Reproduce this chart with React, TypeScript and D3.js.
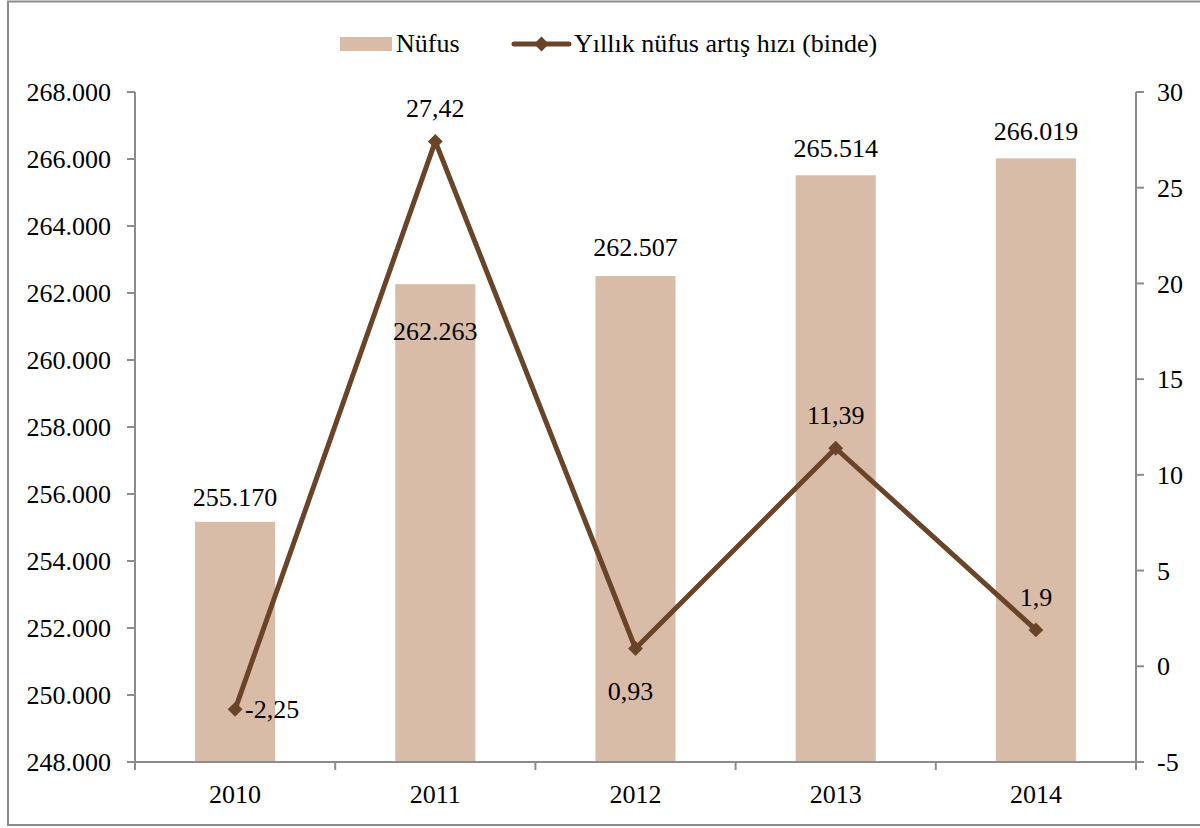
import React, { useEffect, useRef } from "react";
import * as d3 from "d3";

const years = ["2010", "2011", "2012", "2013", "2014"];
const population = [255170, 262263, 262507, 265514, 266019];
const growthRate = [-2.25, 27.42, 0.93, 11.39, 1.9];
const leftTicks = [248000, 250000, 252000, 254000, 256000, 258000, 260000, 262000, 264000, 266000, 268000];
const rightTicks = [-5, 0, 5, 10, 15, 20, 25, 30];

const barColor = "#D9BCA8";
const lineColor = "#6A4429";
const axisColor = "#8C8C8C";
const font = "'Liberation Serif', 'Times New Roman', serif";

const fmtThousands = (v: number) => d3.format(",")(v).replace(/,/g, ".");
const fmtComma = (v: number) => String(v).replace(".", ",");

const App = () => {
  const ref = useRef<SVGSVGElement>(null);

  useEffect(() => {
    const width = 1200;
    const height = 828;
    const svg = d3.select(ref.current).attr("width", width).attr("height", height);
    svg.selectAll("*").remove();

    const left = 135;
    const right = 1136;
    const top = 92;
    const bottom = 762;

    // outer border
    svg
      .append("rect")
      .attr("x", 8)
      .attr("y", 1.5)
      .attr("width", 1210)
      .attr("height", 823.5)
      .attr("fill", "#fff")
      .attr("stroke", axisColor)
      .attr("stroke-width", 2);

    const x = d3.scaleBand().domain(years).range([left, right]).paddingInner(0.6).paddingOuter(0.3);
    const band = d3.scaleBand().domain(years).range([left, right]);
    const yL = d3.scaleLinear().domain([248000, 268000]).range([bottom, top]);
    const yR = d3.scaleLinear().domain([-5, 30]).range([bottom, top]);

    // bars
    svg
      .append("g")
      .selectAll("rect")
      .data(population)
      .join("rect")
      .attr("x", (_, i) => x(years[i])!)
      .attr("width", x.bandwidth())
      .attr("y", (d) => yL(d))
      .attr("height", (d) => bottom - yL(d))
      .attr("fill", barColor);

    // left axis
    const gL = svg.append("g").attr("font-family", font).attr("font-size", 26);
    gL.append("line")
      .attr("x1", left).attr("x2", left).attr("y1", top).attr("y2", bottom)
      .attr("stroke", axisColor).attr("stroke-width", 2);
    leftTicks.forEach((t) => {
      gL.append("line")
        .attr("x1", left - 8).attr("x2", left).attr("y1", yL(t)).attr("y2", yL(t))
        .attr("stroke", axisColor).attr("stroke-width", 2);
      gL.append("text")
        .attr("x", left - 24).attr("y", yL(t)).attr("dy", "0.35em")
        .attr("text-anchor", "end").text(fmtThousands(t));
    });

    // right axis
    const gR = svg.append("g").attr("font-family", font).attr("font-size", 26);
    gR.append("line")
      .attr("x1", right).attr("x2", right).attr("y1", top).attr("y2", bottom + 8)
      .attr("stroke", axisColor).attr("stroke-width", 2);
    rightTicks.forEach((t) => {
      gR.append("line")
        .attr("x1", right).attr("x2", right + 8).attr("y1", yR(t)).attr("y2", yR(t))
        .attr("stroke", axisColor).attr("stroke-width", 2);
      gR.append("text")
        .attr("x", right + 21).attr("y", yR(t)).attr("dy", "0.35em")
        .attr("text-anchor", "start").text(t);
    });

    // x axis
    const gX = svg.append("g").attr("font-family", font).attr("font-size", 26);
    gX.append("line")
      .attr("x1", left).attr("x2", right).attr("y1", bottom).attr("y2", bottom)
      .attr("stroke", axisColor).attr("stroke-width", 2);
    [...years.map((y) => band(y)!), right].forEach((p) => {
      gX.append("line")
        .attr("x1", p).attr("x2", p).attr("y1", bottom).attr("y2", bottom + 8)
        .attr("stroke", axisColor).attr("stroke-width", 2);
    });
    years.forEach((y) => {
      gX.append("text")
        .attr("x", band(y)! + band.bandwidth() / 2).attr("y", 803)
        .attr("text-anchor", "middle").text(y);
    });

    // line
    const cx = (i: number) => band(years[i])! + band.bandwidth() / 2;
    const line = d3
      .line<number>()
      .x((_, i) => cx(i))
      .y((d) => yR(d));
    svg
      .append("path")
      .datum(growthRate)
      .attr("d", line)
      .attr("fill", "none")
      .attr("stroke", lineColor)
      .attr("stroke-width", 5)
      .attr("stroke-linejoin", "round");
    const diamond = d3.symbol().type(d3.symbolSquare).size(110);
    svg
      .append("g")
      .selectAll("path")
      .data(growthRate)
      .join("path")
      .attr("d", diamond)
      .attr("transform", (d, i) => `translate(${cx(i)},${yR(d)}) rotate(45)`)
      .attr("fill", lineColor);

    // bar labels
    const barLabelDy = [-25, 47, -29, -27, -27];
    const gLab = svg.append("g").attr("font-family", font).attr("font-size", 26).attr("fill", "#000");
    population.forEach((v, i) => {
      gLab.append("text")
        .attr("x", cx(i))
        .attr("y", yL(v) + barLabelDy[i])
        .attr("dy", "0.35em")
        .attr("text-anchor", "middle")
        .text(fmtThousands(v));
    });

    // line labels: [dx, dy, anchor]
    const lineLabelPos: [number, number, string][] = [
      [10, 0, "start"],
      [0, -33, "middle"],
      [-5, 42, "middle"],
      [0, -33, "middle"],
      [0, -33, "middle"],
    ];
    growthRate.forEach((v, i) => {
      const [dx, dy, anchor] = lineLabelPos[i];
      gLab.append("text")
        .attr("x", cx(i) + dx)
        .attr("y", yR(v) + dy)
        .attr("dy", "0.35em")
        .attr("text-anchor", anchor)
        .text(fmtComma(v));
    });

    // legend
    const gLeg = svg.append("g").attr("font-family", font).attr("font-size", 26);
    gLeg.append("rect").attr("x", 340).attr("y", 37).attr("width", 52).attr("height", 14).attr("fill", barColor);
    gLeg.append("text").attr("x", 396).attr("y", 52).text("Nüfus");
    gLeg.append("line")
      .attr("x1", 514).attr("x2", 569).attr("y1", 44).attr("y2", 44)
      .attr("stroke", lineColor).attr("stroke-width", 5).attr("stroke-linecap", "round");
    gLeg.append("path")
      .attr("d", diamond)
      .attr("transform", "translate(541.5,44) rotate(45)")
      .attr("fill", lineColor);
    gLeg.append("text").attr("x", 574).attr("y", 52).text("Yıllık nüfus artış hızı (binde)");
  }, []);

  return (
    <div style={{ position: "fixed", left: 0, top: 0, width: 1200, height: 828, overflow: "hidden", background: "#fff" }}>
      <svg ref={ref} style={{ display: "block" }}></svg>
    </div>
  );
};

export default App;
